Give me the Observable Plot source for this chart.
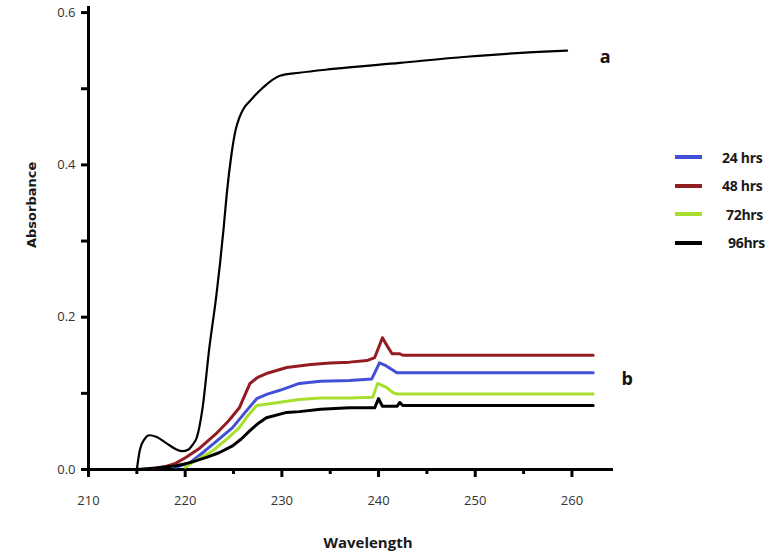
<!DOCTYPE html>
<html>
<head>
<meta charset="utf-8">
<script src="https://cdn.jsdelivr.net/npm/d3@7"></script>
<script src="https://cdn.jsdelivr.net/npm/@observablehq/plot@0.6"></script>
<style>
  html, body { margin: 0; padding: 0; background: #fff; }
  #wrap { position: relative; width: 772px; height: 560px; font-family: "Open Sans", "Liberation Sans", sans-serif; }
  #legend { position: absolute; left: 675px; top: 143px; }
  .row { display: flex; align-items: center; height: 28.5px; }
  .sw { width: 27px; height: 4px; }
  .lab { font-weight: bold; font-size: 14px; color: #1a1a1a; margin-left: 20px; font-family: "Open Sans", sans-serif; letter-spacing: -0.3px; }
</style>
</head>
<body>
<div id="wrap"><div id="legend"></div></div>
<script>
// ---- data ----
const curveA = [
  [215.0, 0.000], [215.3, 0.025], [215.8, 0.040], [216.3, 0.045], [217.0, 0.043],
  [218.0, 0.035], [219.0, 0.027], [219.7, 0.024], [220.3, 0.026], [220.8, 0.033],
  [221.2, 0.042], [221.8, 0.081], [222.5, 0.160], [223.2, 0.226], [223.6, 0.270],
  [224.0, 0.320], [224.3, 0.362], [224.8, 0.415], [225.2, 0.445], [225.6, 0.462],
  [226.1, 0.475], [226.7, 0.484], [228.0, 0.501], [229.8, 0.517], [231.8, 0.521],
  [235.3, 0.526], [242.2, 0.534], [249.1, 0.542], [256.0, 0.548], [259.5, 0.550]
];
const hrs24 = [
  [219.0, 0.003], [220.5, 0.009], [222.0, 0.024], [223.5, 0.040], [224.9, 0.055],
  [226.2, 0.075], [227.4, 0.093], [228.5, 0.099], [229.8, 0.104], [231.8, 0.113],
  [234.0, 0.116], [237.0, 0.117], [239.3, 0.119], [240.1, 0.140], [240.8, 0.136],
  [241.9, 0.127], [262.2, 0.127]
];
const hrs48 = [
  [216.5, 0.001], [218.0, 0.004], [219.0, 0.008], [220.1, 0.016], [221.5, 0.028],
  [223.2, 0.047], [224.5, 0.064], [225.6, 0.081], [226.7, 0.113], [227.5, 0.121],
  [228.4, 0.126], [230.5, 0.134], [233.0, 0.138], [235.0, 0.140], [237.0, 0.141],
  [238.8, 0.143], [239.6, 0.147], [240.4, 0.173], [241.0, 0.160], [241.4, 0.152],
  [242.2, 0.152], [242.5, 0.150], [262.2, 0.150]
];
const hrs72 = [
  [220.0, 0.003], [220.6, 0.008], [222.9, 0.025], [224.3, 0.040], [225.6, 0.055],
  [226.5, 0.071], [227.4, 0.084], [229.1, 0.087], [231.8, 0.092], [234.0, 0.094],
  [237.0, 0.094], [239.4, 0.095], [239.9, 0.113], [240.8, 0.108], [241.5, 0.101],
  [241.9, 0.099], [262.2, 0.099]
];
const hrs96 = [
  [215.0, 0.000], [217.0, 0.002], [219.1, 0.005], [220.5, 0.009], [222.2, 0.016],
  [223.5, 0.022], [224.9, 0.031], [225.8, 0.040], [226.7, 0.051], [227.5, 0.060],
  [228.4, 0.068], [230.5, 0.075], [231.8, 0.076], [234.0, 0.079], [237.0, 0.081],
  [239.6, 0.081], [240.0, 0.093], [240.4, 0.083], [241.9, 0.083], [242.2, 0.088],
  [242.5, 0.084], [262.2, 0.084]
];
const seriesNames = ["24 hrs", "48 hrs", "72hrs", "96hrs"];
const seriesColors = ["#4150d6", "#931c22", "#a6e02c", "#000000"];
const seriesData = [hrs24, hrs48, hrs72, hrs96];
const xMajorTicks = [210, 220, 230, 240, 250, 260];
const xMinorTicks = [215, 225, 235, 245, 255];
const yMajorTicks = [0, 0.2, 0.4, 0.6];
const yMinorTicks = [0.1, 0.3, 0.5];

// ---- build ----
const rows = [];
seriesData.forEach((arr, i) => arr.forEach(([x, y]) => rows.push({x, y, s: seriesNames[i]})));
const aRows = curveA.map(([x, y]) => ({x, y}));
const aEnd = aRows[aRows.length - 1];
const bEnd = {x: hrs24[hrs24.length - 1][0], y: hrs24[hrs24.length - 1][1]};

const plot = Plot.plot({
  width: 772, height: 560,
  marginLeft: 88, marginRight: 159, marginTop: 6, marginBottom: 91,
  style: {fontFamily: "'Open Sans', sans-serif", background: "transparent"},
  x: {domain: [210, 264.3]},
  y: {domain: [0, 0.608]},
  color: {domain: seriesNames, range: seriesColors},
  marks: [
    Plot.ruleY([0], {stroke: "#000", strokeWidth: 3}),
    Plot.ruleX([210], {stroke: "#000", strokeWidth: 3}),
    Plot.axisX({ticks: xMajorTicks, tickSize: 8, tickPadding: 18, strokeWidth: 3, stroke: "#000", fontSize: 13, fill: "#333", label: null, tickFormat: d3.format("d")}),
    Plot.axisX({ticks: xMinorTicks, tickSize: 5, strokeWidth: 3, stroke: "#000", text: null, label: null}),
    Plot.axisY({ticks: yMajorTicks, tickSize: 7, tickPadding: 6, strokeWidth: 3, stroke: "#000", fontSize: 13, fill: "#333", label: null, tickFormat: d3.format(".1f")}),
    Plot.axisY({ticks: yMinorTicks, tickSize: 7, strokeWidth: 3, stroke: "#000", text: null, label: null}),
    Plot.line(aRows, {x: "x", y: "y", stroke: "#000", strokeWidth: 2.2, curve: "monotone-x"}),
    Plot.line(rows, {x: "x", y: "y", z: "s", stroke: "s", strokeWidth: 3, curve: "linear"}),
    Plot.text([aEnd], {x: "x", y: "y", text: () => "a", dx: 38, dy: 7, fontSize: 18, fontWeight: "bold", fill: "#111"}),
    Plot.text([bEnd], {x: "x", y: "y", text: () => "b", dx: 34, dy: 6, fontSize: 18, fontWeight: "bold", fill: "#111"}),
    Plot.text(["Wavelength"], {frameAnchor: "bottom", text: d => d, dx: 17, dy: 78, fontSize: 15, fontWeight: "bold", fill: "#1a1a1a"}),
    Plot.text(["Absorbance"], {frameAnchor: "left", text: d => d, rotate: -90, dx: -57, dy: 10, fontSize: 13, fontWeight: "bold", fill: "#1a1a1a", fontFamily: "'DejaVu Sans', sans-serif"})
  ]
});
const wrap = document.getElementById("wrap");
wrap.insertBefore(plot, wrap.firstChild);

// legend
const leg = d3.select("#legend");
seriesNames.forEach((name, i) => {
  const r = leg.append("div").attr("class", "row");
  r.append("div").attr("class", "sw").style("background", seriesColors[i]);
  r.append("div").attr("class", "lab").style("margin-left", (i < 2 ? 20 : i === 2 ? 24 : 26) + "px").text(name);
});
</script>
</body>
</html>
